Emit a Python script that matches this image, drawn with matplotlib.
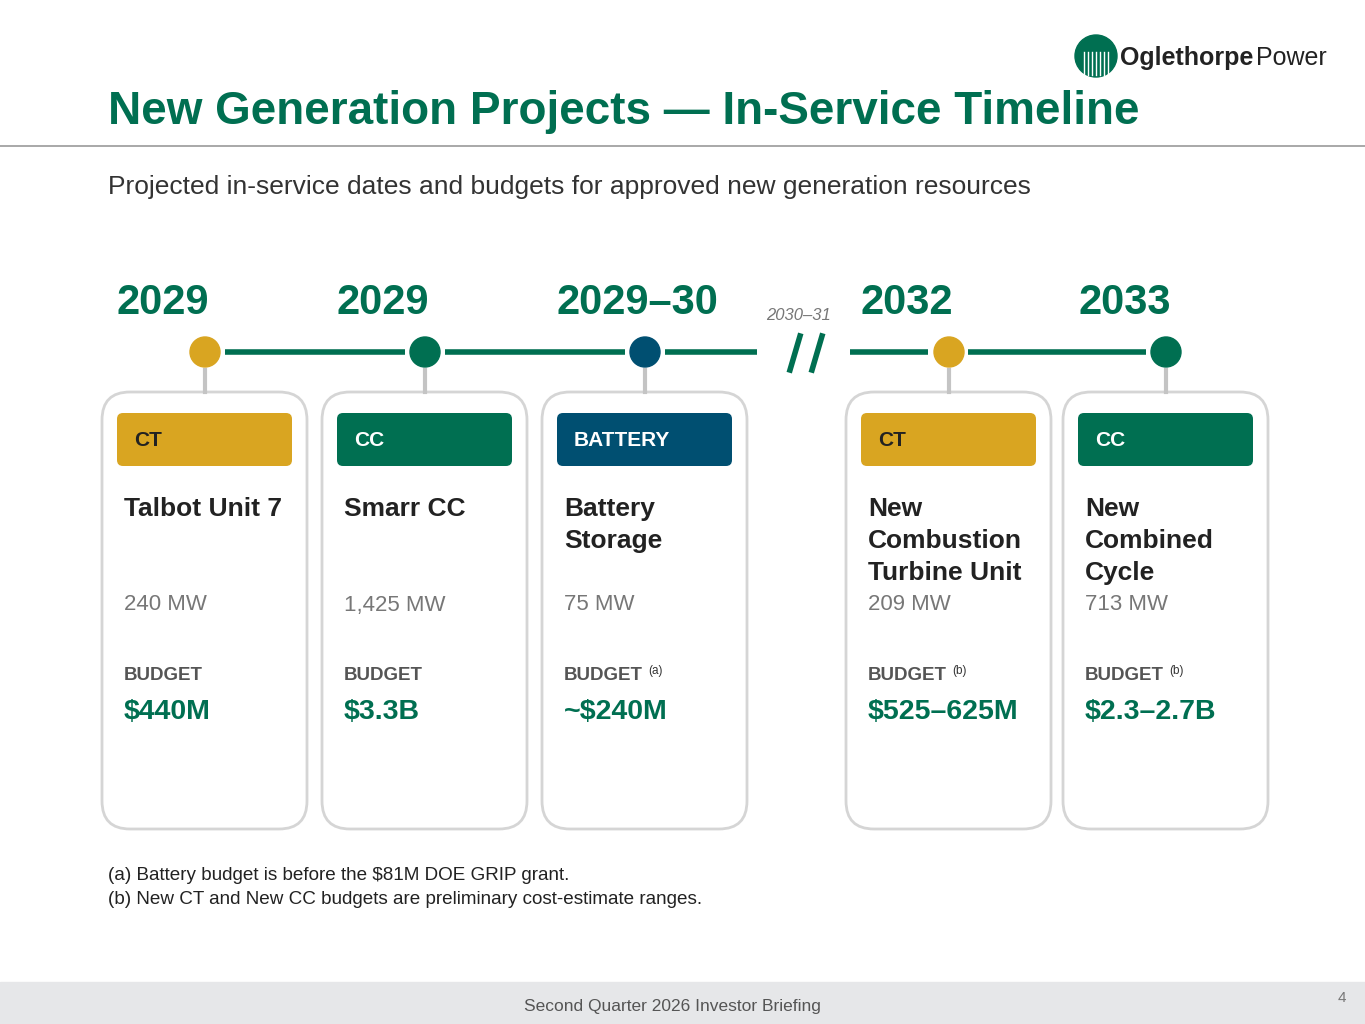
import matplotlib
matplotlib.use("Agg")
import matplotlib.pyplot as plt
from matplotlib.patches import FancyBboxPatch, Circle, Rectangle

plt.rcParams['font.family'] = ['Liberation Sans', 'DejaVu Sans']

years = ["2029", "2029", "2029–30", "2032", "2033"]
types = ["CT", "CC", "BATTERY", "CT", "CC"]
names = ["Talbot Unit 7", "Smarr CC", "Battery\nStorage", "New\nCombustion\nTurbine Unit", "New\nCombined\nCycle"]
mw = ["240 MW", "1,425 MW", "75 MW", "209 MW", "713 MW"]
notes = ["", "", "(a)", "(b)", "(b)"]
budgets = ["$440M", "$3.3B", "~$240M", "$525–625M", "$2.3–2.7B"]
card_x = [102, 322, 542, 846, 1063]

GREEN = "#006F51"; GOLD = "#D9A521"; NAVY = "#004F71"; GRAY = "#777777"
tcol = {"CT": GOLD, "CC": GREEN, "BATTERY": NAVY}

fig = plt.figure(figsize=(13.65, 10.24), dpi=100)
ax = fig.add_axes([0, 0, 1, 1])
ax.set_xlim(0, 1365); ax.set_ylim(1024, 0); ax.axis('off')

ax.text(108, 112, "New Generation Projects — In-Service Timeline", fontsize=33, fontweight='bold', color=GREEN, va='center')
ax.plot([0, 1365], [146, 146], color="#999999", lw=1.2)
ax.text(108, 187, "Projected in-service dates and budgets for approved new generation resources", fontsize=19, color="#333333", va='center')
# logo
ax.add_patch(Circle((1096, 56), 21, color=GREEN))
for dx in range(-12, 14, 4):
    ax.plot([1096+dx, 1096+dx], [52, 75], color='white', lw=1)
ax.text(1120, 58, "Oglethorpe", fontsize=18, fontweight='bold', color='#222222', va='center')
ax.text(1256, 58, "Power", fontsize=18, color='#222222', va='center')

dots = [x + 103 for x in card_x]
segs = [(225, 405), (445, 625), (665, 757), (850, 928), (968, 1146)]
for a, b in segs:
    ax.plot([a, b], [352, 352], color=GREEN, lw=4, solid_capstyle='butt')
for s in (0, 22):
    ax.plot([790+s, 800+s], [370, 336], color=GREEN, lw=4)
ax.text(798, 316, "2030–31", fontsize=12, style='italic', color=GRAY, ha='center', va='center')

for i, x in enumerate(card_x):
    c = tcol[types[i]]
    cx = dots[i]
    ax.plot([cx, cx], [370, 392], color="#C4C4C4", lw=3)
    ax.add_patch(Circle((cx, 352), 15, color=c, zorder=3))
    ax.text(x + 15, 303, years[i], fontsize=30, fontweight='bold', color=GREEN, va='center')
    ax.add_patch(FancyBboxPatch((x, 392), 205, 437, boxstyle="round,pad=0,rounding_size=28",
                                fc='white', ec="#D5D5D5", lw=2))
    ax.add_patch(FancyBboxPatch((x + 15, 413), 175, 53, boxstyle="round,pad=0,rounding_size=6",
                                fc=c, ec='none'))
    ax.text(x + 32, 441, types[i], fontsize=15, fontweight='bold',
            color='#222222' if types[i] == "CT" else 'white', va='center')
    ax.text(x + 22, 497, names[i], fontsize=19, fontweight='bold', color='#222222', va='top', linespacing=1.42)
    ax.text(x + 22, 605, mw[i], fontsize=16, color=GRAY, va='center')
    ax.text(x + 22, 675, "BUDGET", fontsize=13.5, fontweight='bold', color="#555555", va='center')
    if notes[i]:
        ax.text(x + 106, 671, notes[i], fontsize=8.5, color="#333333", va='center')
    ax.text(x + 22, 712, budgets[i], fontsize=20.5, fontweight='bold', color=GREEN, va='center')

ax.text(108, 876, "(a) Battery budget is before the $81M DOE GRIP grant.", fontsize=13.6, color='#222222', va='center')
ax.text(108, 899, "(b) New CT and New CC budgets are preliminary cost-estimate ranges.", fontsize=13.6, color='#222222', va='center')

ax.add_patch(Rectangle((0, 982), 1365, 42, color="#E6E7E9"))
ax.text(672, 1007, "Second Quarter 2026 Investor Briefing", fontsize=12.5, color="#555555", ha='center', va='center')
ax.text(1342, 998, "4", fontsize=11, color="#777777", ha='center', va='center')

fig.savefig("out.png", dpi=100)
